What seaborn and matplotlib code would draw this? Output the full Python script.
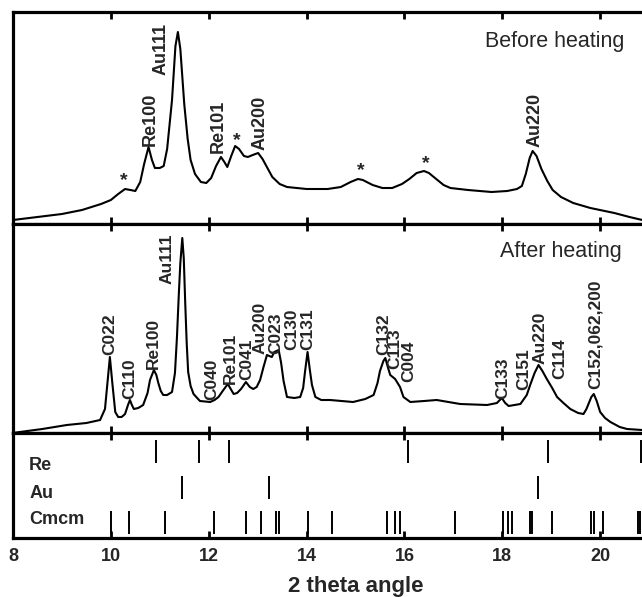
import matplotlib
matplotlib.use("Agg")
import matplotlib.pyplot as plt
import seaborn as sns

# diffraction pattern before heating (2 theta, intensity in arbitrary units)
top_x = [8.0, 8.5, 9.0, 9.41, 9.8, 10.0, 10.15, 10.29, 10.4, 10.5, 10.6, 10.68, 10.77, 10.84,
         10.9, 11.0, 11.08, 11.15, 11.25, 11.32, 11.37, 11.42, 11.5, 11.57, 11.63, 11.72, 11.84,
         11.95, 12.05, 12.15, 12.25, 12.32, 12.38, 12.46, 12.54, 12.62, 12.72, 12.8, 12.9, 13.01,
         13.1, 13.2, 13.3, 13.45, 13.6, 14.0, 14.43, 14.7, 14.9, 15.05, 15.15, 15.35, 15.55, 15.75,
         15.95, 16.1, 16.25, 16.4, 16.5, 16.65, 16.8, 16.94, 17.3, 17.78, 18.1, 18.3, 18.4, 18.48,
         18.56, 18.62, 18.7, 18.8, 18.92, 19.03, 19.2, 19.45, 19.8, 20.29, 20.6, 20.86]
top_y = [4, 7, 10, 14, 20, 24, 30, 35, 34, 33, 42, 60, 77, 64,
         56, 56, 58, 75, 124, 178, 192, 175, 120, 85, 64, 50, 42,
         41, 46, 58, 67, 62, 57, 68, 78, 75, 68, 67, 69, 71,
         65, 56, 47, 40, 37, 35, 35, 37, 42, 45, 44, 39, 36, 36,
         40, 45, 51, 53, 51, 45, 39, 36, 34, 32, 33, 35, 38, 50,
         66, 73, 68, 55, 43, 34, 27, 21, 16, 11, 7, 4]

# diffraction pattern after heating
mid_x = [8.0, 8.14, 8.6, 9.1, 9.5, 9.78, 9.88, 9.93, 9.98, 10.03, 10.09, 10.15, 10.22, 10.29,
         10.35, 10.39, 10.43, 10.47, 10.56, 10.66, 10.75, 10.8, 10.88, 10.93, 10.97, 11.02, 11.07,
         11.15, 11.25, 11.31, 11.35, 11.39, 11.42, 11.46, 11.49, 11.52, 11.55, 11.58, 11.63, 11.69,
         11.82, 12.03, 12.12, 12.2, 12.3, 12.39, 12.45, 12.51, 12.58, 12.66, 12.76, 12.84, 12.91,
         12.98, 13.05, 13.12, 13.19, 13.29, 13.34, 13.43, 13.48, 13.53, 13.6, 13.75, 13.87, 13.93,
         13.97, 14.02, 14.07, 14.11, 14.18, 14.3, 14.48, 14.95, 15.2, 15.37, 15.45, 15.5, 15.57,
         15.61, 15.66, 15.71, 15.81, 15.91, 15.98, 16.12, 16.4, 16.66, 16.9, 17.14, 17.69, 17.89,
         17.99, 18.06, 18.13, 18.37, 18.5, 18.57, 18.66, 18.74, 18.82, 18.91, 19.02, 19.12, 19.25,
         19.39, 19.55, 19.66, 19.72, 19.77, 19.82, 19.87, 19.93, 20.0, 20.1, 20.21, 20.4, 20.55, 20.86]
mid_y = [0, 1, 4, 8, 10, 13, 24, 50, 76, 50, 21, 16, 16, 19,
         28, 33, 28, 24, 25, 28, 40, 53, 63, 58, 50, 42, 38,
         38, 41, 60, 95, 140, 170, 195, 175, 130, 90, 61, 47, 39,
         32, 31, 33, 36, 43, 49, 44, 39, 40, 44, 51, 46, 44,
         46, 53, 66, 78, 76, 81, 83, 70, 52, 36, 35, 36, 45,
         62, 81, 62, 48, 36, 33, 33, 31, 34, 38, 50, 62, 72,
         75, 66, 58, 54, 46, 36, 31, 32, 33, 31, 29, 28, 30,
         35, 30, 27, 29, 38, 48, 60, 68, 62, 54, 45, 36, 30,
         24, 20, 19, 24, 30, 36, 39, 32, 21, 15, 11, 6, 4, 3]

# peak labels
top_labels = ["Re100", "Au111", "Re101", "Au200", "Au220"]
top_label_x = [10.8, 11.03, 12.2, 13.05, 18.66]
top_label_y = [78, 149, 71, 74, 77]
star_x = [10.26, 12.58, 15.1, 16.44]
star_y = [43, 83, 53, 60]

mid_labels = ["C022", "C110", "Re100", "Au111", "C040", "Re101", "C041", "Au200", "C023",
              "C130", "C131", "C132", "C113", "C004", "C133", "C151", "Au220", "C114",
              "C152,062,200"]
mid_label_x = [9.98, 10.39, 10.87, 11.14, 12.06, 12.44, 12.78, 13.04, 13.36,
               13.70, 14.02, 15.57, 15.81, 16.08, 18.01, 18.44, 18.78, 19.17, 19.90]
mid_label_y = [78, 34, 64, 149, 33, 49, 53, 79, 79,
               83, 83, 78, 64, 51, 34, 43, 69, 54, 44]

# reference reflection positions
re_pos = [10.92, 11.81, 12.41, 16.08, 18.93, 20.84]
au_pos = [11.46, 13.24, 18.74]
cmcm_pos = [10.00, 10.38, 11.11, 12.10, 12.76, 13.07, 13.38, 13.43, 14.02, 14.52, 15.64,
            15.81, 15.91, 17.04, 18.01, 18.12, 18.20, 18.56, 18.61, 19.02, 19.81, 19.87,
            20.06, 20.77, 20.82]

W, H = 642, 597
X0, X1 = 13, 698  # pixel span of 2 theta 8..22 (figure is cropped on the right)


def frame(top_px, bottom_px):
    return [X0 / W, (H - bottom_px) / H, (X1 - X0) / W, (bottom_px - top_px) / H]


def style_axis(ax, ymax, labels=False):
    ax.set_xlim(8, 22)
    ax.set_ylim(0, ymax)
    ax.set_yticks([])
    ax.set_ylabel("")
    ax.set_xlabel("")
    ticks = list(range(8, 21, 2))
    ax.set_xticks(ticks, labels=[str(t) for t in ticks], fontsize=13, fontweight="bold")
    ax.tick_params(axis="x", direction="in", top=True, bottom=True, length=5, width=2,
                   color="black", labelbottom=labels, pad=7)
    for s in ax.spines.values():
        s.set_linewidth(2.3)
        s.set_color("black")
        s.set_visible(True)


sns.set_theme(style="white")
plt.rcParams["font.family"] = ["Liberation Sans", "DejaVu Sans"]

fig = plt.figure(figsize=(6.42, 5.97), dpi=100)
ax_top = fig.add_axes(frame(12, 224))
ax_mid = fig.add_axes(frame(224, 433))
ax_bot = fig.add_axes(frame(433, 538))

sns.lineplot(x=top_x, y=top_y, ax=ax_top, color="black", linewidth=1.5)
style_axis(ax_top, 212)
for name, x, y in zip(top_labels, top_label_x, top_label_y):
    ax_top.text(x, y, name, rotation=90, ha="center", va="bottom", fontsize=13, fontweight="bold")
for x, y in zip(star_x, star_y):
    ax_top.text(x, y, "*", ha="center", va="center", fontsize=14, fontweight="bold")
ax_top.text(20.5, 182, "Before heating", ha="right", va="center", fontsize=15.5)

sns.lineplot(x=mid_x, y=mid_y, ax=ax_mid, color="black", linewidth=1.5)
style_axis(ax_mid, 209)
for name, x, y in zip(mid_labels, mid_label_x, mid_label_y):
    ax_mid.text(x, y, name, rotation=90, ha="center", va="bottom", fontsize=12.5, fontweight="bold")
ax_mid.text(20.45, 181, "After heating", ha="right", va="center", fontsize=15.5)

style_axis(ax_bot, 105, labels=True)
rows = [("Re", re_pos, 75, 98, 72), ("Au", au_pos, 39, 62, 45), ("Cmcm", cmcm_pos, 4, 27, 18)]
for name, pos, lo, hi, ty in rows:
    ax_bot.vlines(pos, lo, hi, color="black", linewidth=1.4)
    ax_bot.text(8.33, ty, name, ha="left", va="center", fontsize=13, fontweight="bold")
ax_bot.set_xlabel("2 theta angle", fontsize=16, fontweight="bold", labelpad=8)

fig.savefig("out.png", dpi=100)
